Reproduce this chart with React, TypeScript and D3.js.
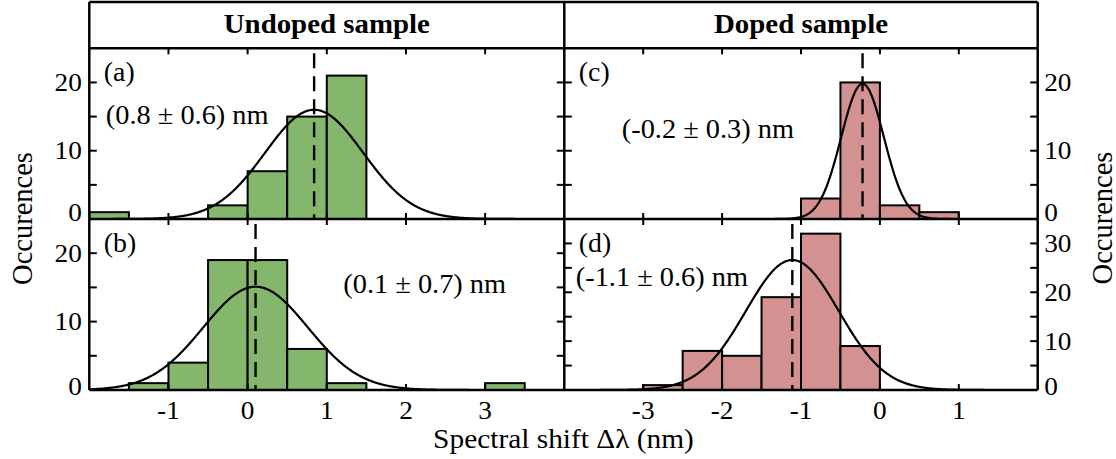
import React from 'react';
import * as d3 from 'd3';

// ---- data -------------------------------------------------------------
const BIN_WIDTH = 0.5;

// Left edge of each non-empty histogram bin and its count
const undopedTopBinStarts = [-2, -0.5, 0, 0.5, 1];
const undopedTopCounts = [1, 2, 7, 15, 21];
const undopedBottomBinStarts = [-1.5, -1, -0.5, 0, 0.5, 1, 3];
const undopedBottomCounts = [1, 4, 19, 19, 6, 1, 1];
const dopedTopBinStarts = [-1, -0.5, 0, 0.5];
const dopedTopCounts = [3, 20, 2, 1];
const dopedBottomBinStarts = [-3, -2.5, -2, -1.5, -1, -0.5];
const dopedBottomCounts = [1, 8, 7, 19, 32, 9];

// Gaussian fits for panels a, b, c, d
const fitAmplitudes = [16.0, 15.1, 19.8, 26.6];
const fitCentres = [0.84, 0.1, -0.22, -1.11];
const fitSigmas = [0.62, 0.66, 0.27, 0.59];

const panelLetters = ['(a)', '(b)', '(c)', '(d)'];
const columnTitles = ['Undoped sample', 'Doped sample'];
const undopedXDomain = [-2, 4];
const dopedXDomain = [-4, 2];
const undopedXTicks = [-1, 0, 1, 2, 3];
const dopedXTicks = [-3, -2, -1, 0, 1];
const panelYMax = [25, 25, 25, 35];
const xAxisTitle = 'Spectral shift \u0394\u03bb (nm)';
const yAxisTitle = 'Occurences';

// ---- layout -----------------------------------------------------------
const W = 1116;
const H = 459;
const LEFT = 89.3;
const MID = 564.3;
const RIGHT = 1037.7;
const TITLE_TOP = 2;
const ROW0 = 48.3;
const ROW1 = 219;
const ROW2 = 390;
const SX = 1.05;
const FONT = '"Liberation Serif", "Times New Roman", serif';
const GREEN = '#84b66b';
const PINK = '#d39192';

const panels = [
  { col: 0, row: 0, starts: undopedTopBinStarts, counts: undopedTopCounts, fill: GREEN, note: [16.5, 75.5] },
  { col: 0, row: 1, starts: undopedBottomBinStarts, counts: undopedBottomCounts, fill: GREEN, note: [254, 73.5] },
  { col: 1, row: 0, starts: dopedTopBinStarts, counts: dopedTopCounts, fill: PINK, note: [57.5, 90] },
  { col: 1, row: 1, starts: dopedBottomBinStarts, counts: dopedBottomCounts, fill: PINK, note: [11.5, 67] },
];

function fmt(v: number) {
  return v.toFixed(1);
}

function Panel({ p, i }: { p: typeof panels[number]; i: number }) {
  const x0 = p.col === 0 ? LEFT : MID;
  const x1 = p.col === 0 ? MID : RIGHT;
  const y0 = p.row === 0 ? ROW0 : ROW1;
  const y1 = p.row === 0 ? ROW1 : ROW2;
  const xDomain = p.col === 0 ? undopedXDomain : dopedXDomain;
  const xTicks = p.col === 0 ? undopedXTicks : dopedXTicks;
  const yMax = panelYMax[i];
  const x = d3.scaleLinear().domain(xDomain).range([x0, x1]);
  const y = d3.scaleLinear().domain([0, yMax]).range([y1, y0]);

  const amp = fitAmplitudes[i];
  const mu = fitCentres[i];
  const sig = fitSigmas[i];
  const samples = d3.range(xDomain[0], xDomain[1] + 1e-9, 0.01);
  const gauss = d3
    .line<number>()
    .x((v) => x(v))
    .y((v) => y(amp * Math.exp(-((v - mu) ** 2) / (2 * sig * sig))))(samples);

  const minorTicks = d3.range(5, yMax, 5);
  const labelTicks = d3.range(0, yMax, 10);
  const clipId = `clip-${i}`;
  const label = `(${fmt(mu)} \u00b1 ${fmt(sig)}) nm`;

  return (
    <g>
      <defs>
        <clipPath id={clipId}>
          <rect x={x0} y={y0} width={x1 - x0} height={y1 - y0} />
        </clipPath>
      </defs>
      <g clipPath={`url(#${clipId})`}>
        {p.starts.map((s, k) => (
          <rect
            key={k}
            x={x(s)}
            y={y(p.counts[k])}
            width={x(s + BIN_WIDTH) - x(s)}
            height={y(0) - y(p.counts[k])}
            fill={p.fill}
            stroke="#000"
            strokeWidth={2}
          />
        ))}
        <path d={gauss ?? ''} fill="none" stroke="#000" strokeWidth={2.2} />
        <line
          x1={x(mu)}
          x2={x(mu)}
          y1={y0}
          y2={y1}
          stroke="#000"
          strokeWidth={2.4}
          strokeDasharray="15,8"
          strokeDashoffset={18}
        />
      </g>
      {/* x ticks, pointing inward on both edges */}
      {xTicks.map((t) => (
        <g key={`xt${t}`}>
          <line x1={x(t)} x2={x(t)} y1={y0} y2={y0 + 6} stroke="#000" strokeWidth={2} />
          <line x1={x(t)} x2={x(t)} y1={y1} y2={y1 - 6} stroke="#000" strokeWidth={2} />
        </g>
      ))}
      {/* y ticks on both sides */}
      {minorTicks.map((t) => (
        <g key={`yt${t}`}>
          <line x1={x0} x2={x0 + 7.5} y1={y(t)} y2={y(t)} stroke="#000" strokeWidth={2} />
          <line x1={x1} x2={x1 - 7.5} y1={y(t)} y2={y(t)} stroke="#000" strokeWidth={2} />
        </g>
      ))}
      {labelTicks.map((t) => {
        const base = t === 0 ? y(0) + (p.row === 0 ? 1.5 : 5) : y(t) + 8.5;
        const lx = p.col === 0 ? LEFT - 7.5 : RIGHT + 6.5;
        return (
          <text
            key={`yl${t}`}
            transform={`translate(${lx},${base}) scale(${SX},1)`}
            textAnchor={p.col === 0 ? 'end' : 'start'}
            fontSize={26}
            fontFamily={FONT}
          >
            {t}
          </text>
        );
      })}
      {p.row === 1 &&
        xTicks.map((t) => (
          <text
            key={`xl${t}`}
            transform={`translate(${x(t)},${ROW2 + 29}) scale(${SX},1)`}
            textAnchor="middle"
            fontSize={26}
            fontFamily={FONT}
          >
            {t}
          </text>
        ))}
      <text
        transform={`translate(${x0 + 14.5},${y0 + 32.5}) scale(${SX},1)`}
        fontSize={26.5}
        fontFamily={FONT}
      >
        {panelLetters[i]}
      </text>
      <text
        transform={`translate(${x0 + p.note[0]},${y0 + p.note[1]}) scale(${SX},1)`}
        fontSize={27}
        fontFamily={FONT}
      >
        {label}
      </text>
    </g>
  );
}

export default function App() {
  const frame = { stroke: '#000', strokeWidth: 2.5 };
  return (
    <svg
      width={W}
      height={H}
      viewBox={`0 0 ${W} ${H}`}
      style={{ position: 'absolute', left: 0, top: 0, background: '#fff' }}
    >
      <rect x={0} y={0} width={W} height={H} fill="#fff" />
      {panels.map((p, i) => (
        <Panel key={i} p={p} i={i} />
      ))}
      {/* outer frame and dividers */}
      <line x1={LEFT} x2={RIGHT} y1={TITLE_TOP} y2={TITLE_TOP} {...frame} />
      <line x1={LEFT} x2={RIGHT} y1={ROW0} y2={ROW0} {...frame} />
      <line x1={LEFT} x2={RIGHT} y1={ROW1} y2={ROW1} {...frame} />
      <line x1={LEFT} x2={RIGHT} y1={ROW2} y2={ROW2} {...frame} />
      <line x1={LEFT} x2={LEFT} y1={TITLE_TOP} y2={ROW2} {...frame} />
      <line x1={MID} x2={MID} y1={TITLE_TOP} y2={ROW2} {...frame} />
      <line x1={RIGHT} x2={RIGHT} y1={TITLE_TOP} y2={ROW2} {...frame} />
      {columnTitles.map((t, c) => (
        <text
          key={t}
          transform={`translate(${c === 0 ? (LEFT + MID) / 2 : (MID + RIGHT) / 2},33) scale(${SX},1)`}
          textAnchor="middle"
          fontSize={27.5}
          fontWeight="bold"
          fontFamily={FONT}
        >
          {t}
        </text>
      ))}
      <text
        transform={`translate(${(LEFT + RIGHT) / 2},448) scale(${SX},1)`}
        textAnchor="middle"
        fontSize={28}
        fontFamily={FONT}
      >
        {xAxisTitle}
      </text>
      <text
        transform={`translate(31.5,218.5) rotate(-90)`}
        textAnchor="middle"
        fontSize={28.5}
        fontFamily={FONT}
      >
        {yAxisTitle}
      </text>
      <text
        transform={`translate(1111.5,218) rotate(-90)`}
        textAnchor="middle"
        fontSize={28.5}
        fontFamily={FONT}
      >
        {yAxisTitle}
      </text>
    </svg>
  );
}
